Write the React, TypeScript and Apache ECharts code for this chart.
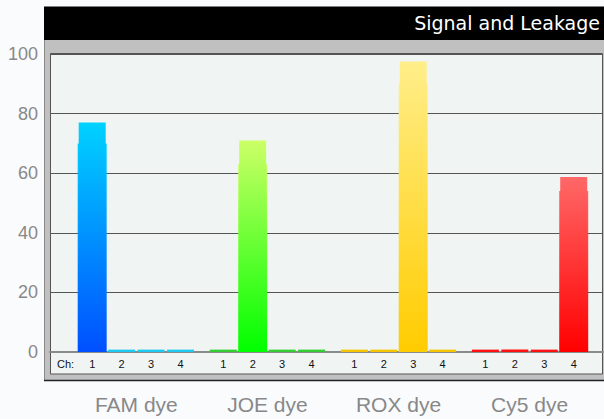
import React, { useEffect, useRef } from "react";
import * as echarts from "echarts";

const dyes = ["FAM dye", "JOE dye", "ROX dye", "Cy5 dye"];
const channels = ["1", "2", "3", "4"];
// values per dye (FAM, JOE, ROX, Cy5) for each detection channel
const ch1 = [77, 0.8, 0.8, 0.8];
const ch2 = [0.8, 71, 0.8, 0.8];
const ch3 = [0.8, 0.8, 97.5, 0.8];
const ch4 = [0.8, 0.8, 0.8, 58.7];
// second, overlapping signal reading on each dye's own channel
const innerSignal = [70, 63, 90, 54];
const yTicks = [0, 100, 20];

const gradTop = ["#00d2ff", "#ccff66", "#ffee8a", "#ff6868"];
const gradBottom = ["#0050ff", "#00ff00", "#ffcc00", "#ff0000"];
const leakColors = ["#1ec8f0", "#33cc33", "#f5c400", "#ff1010"];

const grad = (i: number) =>
  new echarts.graphic.LinearGradient(0, 0, 0, 1, [
    { offset: 0, color: gradTop[i] },
    { offset: 1, color: gradBottom[i] },
  ]);

export default function App() {
  const ref = useRef<HTMLDivElement>(null);
  useEffect(() => {
    if (!ref.current) return;
    const chart = echarts.init(ref.current, null, { renderer: "svg" });
    const chData = [ch1, ch2, ch3, ch4];
    const gridPos = { top: 54, bottom: 67 };
    const option: any = {
      animation: false,
      backgroundColor: "#fafbfd",
      textStyle: { fontFamily: "Liberation Sans" },
      grid: [
        { left: 50, right: 1, ...gridPos },
        { left: 70.8, right: 8.9, ...gridPos },
        { left: 70.8, right: 8.9, ...gridPos },
      ],
      xAxis: [
        {
          gridIndex: 0,
          type: "value",
          min: 0,
          max: 1,
          axisLine: { show: true, lineStyle: { color: "#8a8a8a", width: 2 } },
          axisTick: { show: false },
          axisLabel: { show: false },
          splitLine: { show: false },
        },
        {
          gridIndex: 1,
          type: "category",
          data: dyes,
          axisLine: { show: false },
          axisTick: { show: false },
          axisLabel: { color: "#888", fontSize: 21, margin: 42 },
        },
        { gridIndex: 2, type: "category", data: dyes, show: false },
      ],
      yAxis: [
        {
          gridIndex: 0,
          type: "value",
          min: yTicks[0],
          max: yTicks[1],
          interval: yTicks[2],
          axisLine: { show: false },
          axisTick: { show: false },
          axisLabel: { color: "#888", fontSize: 18, margin: 12 },
          splitLine: { lineStyle: { color: "#555", width: 1 } },
        },
        { gridIndex: 1, type: "value", min: yTicks[0], max: yTicks[1], show: false },
        { gridIndex: 2, type: "value", min: yTicks[0], max: yTicks[1], show: false },
      ],
      graphic: [
        { type: "rect", z: -20, shape: { x: 44, y: 6.5, width: 560, height: 34 }, style: { fill: "#000" } },
        { type: "rect", z: -20, shape: { x: 44, y: 40, width: 560, height: 341 }, style: { fill: "#c0c0c0" } },
        { type: "line", z: -19, shape: { x1: 44.5, y1: 40, x2: 44.5, y2: 381 }, style: { stroke: "#8a8a8a", lineWidth: 1 } },
        { type: "line", z: -19, shape: { x1: 44, y1: 380.5, x2: 604, y2: 380.5 }, style: { stroke: "#222", lineWidth: 1.5 } },
        {
          type: "rect",
          z: -18,
          shape: { x: 50.5, y: 53.5, width: 552, height: 320.5 },
          style: { fill: "#f0f5f4", stroke: "#555", lineWidth: 1 },
        },
        {
          type: "text",
          z: 10,
          x: 600,
          y: 23,
          style: {
            text: "Signal and Leakage",
            fill: "#fff",
            fontSize: 19,
            fontFamily: "DejaVu Sans",
            align: "right",
            verticalAlign: "middle",
          },
        },
        {
          type: "text",
          z: 10,
          x: 57,
          y: 364,
          style: { text: "Ch:", fill: "#111", fontSize: 11, fontFamily: "Liberation Sans", verticalAlign: "middle" },
        },
      ],
      series: [
        ...channels.map((c, ci) => ({
          type: "bar",
          name: "Ch " + c,
          xAxisIndex: 1,
          yAxisIndex: 1,
          barWidth: 27,
          barGap: "9%",
          z: 3,
          label: { show: true, position: "bottom", distance: 6, formatter: c, color: "#111", fontSize: 11 },
          data: chData[ci].map((v, di) => ({
            value: v,
            itemStyle: { color: di === ci ? grad(di) : leakColors[di] },
          })),
        })),
        ...channels.map((c, ci) => ({
          type: "bar",
          name: "Ch " + c + " b",
          xAxisIndex: 2,
          yAxisIndex: 2,
          barWidth: 29,
          barGap: "1.5%",
          z: 2,
          data: dyes.map((_, di) =>
            di === ci ? { value: innerSignal[di], itemStyle: { color: grad(di) } } : "-"
          ),
        })),
      ],
    };
    chart.setOption(option);
    return () => chart.dispose();
  }, []);
  return <div ref={ref} style={{ position: "absolute", left: 0, top: 0, width: 604, height: 419 }} />;
}
